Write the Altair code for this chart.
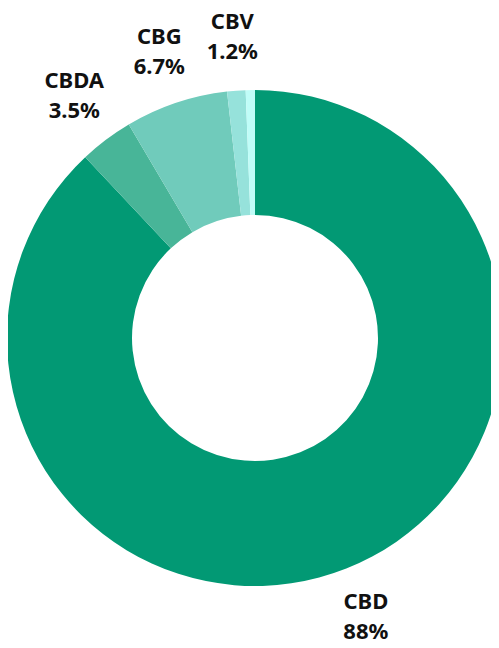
import altair as alt
import pandas as pd

names = ["CBD", "CBDA", "CBG", "CBV", "Other"]
values = [88, 3.5, 6.7, 1.2, 0.6]
pct_labels = ["88%", "3.5%", "6.7%", "1.2%", ""]
colors = ["#029974", "#48b598", "#70cbbb", "#96e2db", "#c0fdf8"]

df = pd.DataFrame({
    "name": names,
    "value": values,
    "order": list(range(len(names))),
    "label": [f"{n}\n{p}" if p else "" for n, p in zip(names, pct_labels)],
})

CX, CY = 247, 330

base = alt.Chart(df).encode(
    theta=alt.Theta("value:Q", stack=True),
    order=alt.Order("order:Q"),
)

arcs = base.mark_arc(innerRadius=123, outerRadius=248).encode(
    color=alt.Color("name:N", scale=alt.Scale(domain=names, range=colors), legend=None),
    x=alt.value(CX),
    y=alt.value(CY),
)

text = base.mark_text(
    radius=301, fontSize=22, fontWeight="bold", font="Noto Sans",
    lineBreak="\n", lineHeight=30, color="#111111", baseline="middle", align="center",
    dy=-16,
).encode(
    text="label:N",
    x=alt.value(CX),
    y=alt.value(CY),
)

chart = alt.layer(arcs, text).properties(
    width=483, height=632, padding=0, autosize="none", background="white"
).configure_view(stroke=None)

chart.save("out.html", embed_options={"renderer": "svg", "actions": False})
